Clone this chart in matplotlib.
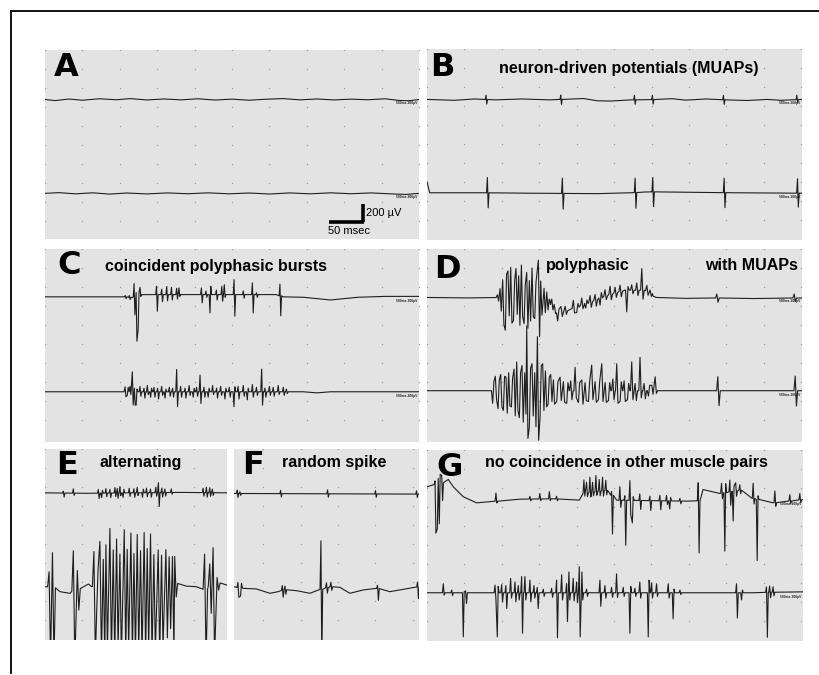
import numpy as np
import matplotlib.pyplot as plt
from matplotlib.lines import Line2D

plt.rcParams['font.family'] = ['Liberation Sans', 'DejaVu Sans']

# ---------------------------------------------------------------
# DATA: paired EMG sweeps, time in ms, amplitude in uV
# baseline = slow drift waypoints (t, uV); spikes = (t, first, second)
# ---------------------------------------------------------------

# A - resting, no activity
A_TOP_BASE = [(0, 0), (15, -12), (35, 5), (55, -8), (80, 8), (105, -3), (125, 10),
              (150, -5), (175, 6), (200, -4), (225, 8), (250, -6), (275, 4), (300, -8),
              (325, 3), (350, 10), (375, -4), (400, 6), (425, -5), (450, 4), (475, -3),
              (500, 8), (520, -10), (535, -14), (550, 0)]
A_BOT_BASE = [(0, 0), (20, 8), (45, -5), (70, 6), (95, -8), (120, 4), (150, -6), (180, 5),
              (210, -4), (240, 6), (270, -5), (300, 4), (330, -7), (360, 5), (390, -5),
              (420, 6), (450, -4), (480, 5), (510, -6), (530, -12), (550, 0)]

# B - neuron-driven potentials (MUAPs)
B_TOP_BASE = [(0, 0), (40, -10), (70, 5), (100, -5), (140, 5), (180, -5), (230, 10),
              (250, -15), (270, -18), (300, -5), (330, -2), (360, 8), (380, -8), (410, 5),
              (440, -5), (470, -12), (500, 0), (520, -10), (551, 0)]
B_TOP_SPIKES = [(86.7, 48, -52), (196.5, 48, -55), (304.8, 50, -50), (331.2, 48, -50),
                (435.6, 48, -52), (543.4, 50, -30)]
B_BOT_BASE = [(0, 120), (4, 0), (80, 0), (150, -5), (250, -10), (300, 0), (320, 8),
              (330, 10), (450, 0), (551, -5)]
B_BOT_SPIKES = [(88.7, 170, -167), (198.9, 170, -175), (305.8, 160, -175),
                (331.7, 160, -165), (436.6, 160, -167), (544.4, 160, -155)]

# C - coincident polyphasic bursts
C_TOP_BASE = [(0, 0), (120, 0), (128, -10), (140, 25), (340, 25), (350, 0), (380, -5),
              (420, -35), (460, -5), (500, 5), (550, 5)]
C_TOP_SPIKES = [(118, 15, -20), (124, 20, -25), (131, 148, -200), (134, 40, -500),
                (137, -380, 30), (139.7, 81, -20), (164, 92, -185), (171.6, 60, -80),
                (179, 90, -70), (186, 80, -60), (193.6, 70, -50), (197, 74, -20),
                (230, 74, -92), (236.7, 40, -30), (242.6, -204, 92), (252, 50, -60),
                (260, 92, -74), (263.7, 110, -30), (278, 166, -240), (291.6, 40, -40),
                (305, 130, -204), (311, 20, -30), (345.5, 130, -222)]
C_BOT_BASE = [(0, 0), (380, 0), (400, -12), (420, 0), (550, 0)]
C_BOT_SPIKES = [(117.7, 55, -55), (121, -40, 50), (125, 60, -30), (128.4, 222, -148),
                (131.4, 40, -148), (134, -148, 30), (139.7, 60, -50), (145.6, 40, -70),
                (150.5, 70, -30), (155.4, -60, 40), (160.3, 50, -60), (165.7, 40, -80),
                (171.6, 60, -40), (176.5, -70, 30), (182.8, 50, -50), (187.7, 40, -60),
                (193.6, 248, -166), (199.5, 60, -60), (205.9, 40, -70), (212, 70, -40),
                (218, -60, 40), (223, 50, -50), (228, 185, -130), (233.8, 50, -60),
                (240, -60, 40), (246.5, 70, -30), (252.4, 40, -70), (258.3, 60, -40),
                (264.7, -80, 40), (271, 50, -60), (277.9, -166, 55), (284, 60, -80),
                (291.6, 70, -50), (297.5, -90, 40), (305, 80, -60), (311, 50, -40),
                (318.6, 252, -148), (323.5, 40, -60), (330, 60, -40), (335.7, 50, -50),
                (343, 70, -30), (350.4, 50, -40), (355, 30, -20)]

# D - polyphasic with MUAPs
D_TOP_BASE = [(0, 0), (60, -5), (100, 0), (180, -20), (189, -178), (215, -122),
              (240, -48), (265, 26), (290, 81), (322, 81), (332, 15), (337, 0),
              (380, -10), (420, -5), (480, -12), (551, -5)]
D_TOP_SPIKES = [(103.4, 30, -40), (107.3, 100, -150), (111.2, 200, -300), (115.1, -360, 260),
                (119, 300, -200), (123, 340, -280), (127, -250, 200), (130.8, 330, -180),
                (134.7, 250, -300), (138.7, 370, -200), (142.6, -280, 150), (146.5, 290, -330),
                (150.4, 200, -250), (154.3, 340, -200), (158.3, -220, 180), (163.6, 430, -420),
                (167.1, 200, -180), (172, 120, -150), (176, 80, -120), (183.3, 60, -60),
                (192, -90, 40), (197, 60, -50), (203, 50, -40), (215, 90, -50),
                (220, -60, 40), (227.4, 80, -40), (233.2, -50, 40), (239.6, 70, -60),
                (247, 60, -70), (254.3, -80, 60), (261.6, 70, -40), (269, 90, -60),
                (276.4, 60, -50), (283.7, 70, -60), (293.5, -240, 40), (300.8, 60, -40),
                (308.2, 80, -60), (315.6, 240, -100), (323, 60, -50), (327.8, 40, -30),
                (425.8, 44, -48), (539.5, 44, -37)]
D_BOT_BASE = [(0, 0), (200, 0), (400, 0), (551, 0)]
D_BOT_SPIKES = [(96.5, -140, 100), (100.4, 160, -100), (104.4, -200, 120), (108.3, 180, -180),
                (112.2, -220, 160), (116.1, 150, -250), (120, 200, -170), (124, -180, 140),
                (127.9, 240, -280), (131.8, 320, -220), (135.7, -300, 200), (139.6, 280, -350),
                (143.6, 200, -260), (146.5, 720, -530), (150.4, -400, 250), (154.3, 300, -280),
                (158.3, 200, -400), (162.2, 600, -550), (166.1, -300, 280), (170, 300, -220),
                (174, 220, -180), (177.9, -150, 150), (181.8, 180, -120), (185.7, 120, -150),
                (190.6, -120, 100), (195.5, 150, -110), (200.4, 100, -130), (205.3, -140, 90),
                (211.2, 110, -100), (217.6, 260, -80), (222.5, -130, 90), (227.4, 120, -150),
                (232.3, 90, -110), (237.2, -120, 100), (242, 285, -100), (247, 100, -130),
                (251.9, -100, 100), (256.8, 300, -120), (261.7, 90, -130), (266.6, -110, 90),
                (273, 130, -100), (278.8, 300, -140), (283.7, -120, 100), (289.6, 110, -120),
                (294.5, -100, 80), (300.8, 320, -100), (305.8, 80, -110), (313, 370, -80),
                (319, 80, -90), (325.4, -60, 60), (330.3, 60, -40), (335.2, 155, -30),
                (427.3, 155, -166), (541, 163, -170)]

# E - alternating
E_TOP_BASE = [(0, 0), (60, -5), (120, 0), (200, 5), (268, 0)]
E_TOP_SPIKES = [(27, 20, -45), (41.7, 48, -25), (78.5, 40, -60), (83.4, -50, 30),
                (89.7, 50, -40), (95.6, 40, -50), (103, 60, -40), (106.4, 50, -60),
                (110.3, 70, -30), (115, -50, 40), (124, 50, -40), (131, 45, -50),
                (135.8, 60, -30), (143.6, -50, 40), (149.5, 50, -45), (155.4, 40, -50),
                (163.2, 60, -40), (167, 110, -155), (172, 50, -50), (176.5, 40, -40),
                (186, 40, -20), (232.8, 50, -40), (237.7, 60, -50), (242.6, 55, -40),
                (246.5, 40, -30)]
E_BOT_BASE = [(0, 0), (8, 0), (22, -55), (37, -74), (51.5, 0), (64, 30), (68.7, 0),
              (193.6, 37), (208, 7), (223, 0), (233, -37), (252, 44), (268, 18)]
E_BOT_SPIKES = [(6, 166, -800), (11, 390, -800), (41.7, 450, -800), (47.6, 200, -240),
                (72, 390, -800), (76, -300, 200), (80.9, 500, -800), (85.8, 300, -800),
                (89.7, 460, -700), (95.6, 640, -800), (100.5, 400, -800), (105.4, 520, -700),
                (110.3, 350, -800), (116.7, 620, -800), (121, 400, -700), (126.5, 580, -800),
                (131, 350, -800), (135.8, 560, -750), (140.7, 380, -800), (146, 580, -800),
                (150.5, 400, -700), (155.4, 560, -800), (160.3, 330, -750), (166.7, 380, -800),
                (171.6, 320, -700), (178, 380, -600), (182.8, 300, -500), (187.7, 300, -800),
                (191, 300, -150), (235, 390, -800), (242.6, 250, -300), (247.5, 410, -800),
                (253.4, 60, -80)]

# F - random spike
F_TOP_BASE = [(0, 0), (272, -7)]
F_TOP_SPIKES = [(4.8, 37, -44), (8.7, 20, -20), (68.5, 37, -37), (137.6, 44, -37),
                (208, 37, -37), (268.4, 37, -37)]
F_BOT_BASE = [(0, 18), (13.6, 0), (33, -7), (52.8, -55), (65, -37), (77.3, -11), (92, -26),
              (111.6, -55), (121.4, -26), (141, 18), (155.7, 11), (170.4, -55), (190, -18),
              (209.6, 0), (229, -37), (248.8, -11), (272, 18)]
F_BOT_SPIKES = [(5.8, 55, -110), (9.7, -90, 50), (71, 55, -74), (74.9, 40, -50),
                (127.8, 540, -800), (136, 55, -60), (142.5, 50, -40), (211, 37, -130),
                (269.9, 55, -130)]

# G - no coincidence in other muscle pairs
G_TOP_BASE = [(0, 148), (24, 200), (31.3, 230), (38.7, 148), (53.4, 37), (73, -30),
              (102.4, -11), (136.7, 11), (185.7, 15), (224, 0), (229.8, 74), (264, 111),
              (278.8, 0), (381.7, -11), (401, -7), (406, 118), (430.8, 74), (460, 111),
              (479.7, 18), (509, -30), (553, 7)]
G_TOP_SPIKES = [(11.8, 40, -540), (15.2, -500, 60), (18.1, -450, 100), (21.6, 80, -200),
                (101.4, 90, -20), (151.4, 30, -20), (166, 60, -20), (180, 80, -20),
                (190.6, 30, -20), (230.8, 150, -30), (234.7, 120, -40), (239.6, 170, -50),
                (243.5, 110, -40), (248.4, 180, -40), (253.3, 130, -50), (258.2, 150, -60),
                (263, 110, -50), (271.5, 40, -430), (283.7, 150, -80), (291, 50, -500),
                (298.4, 220, -160), (302, -250, 40), (313, 74, -100), (327.8, 50, -110),
                (342.5, 60, -100), (352.3, 60, -40), (357, -90, 40), (372, 30, -30),
                (398.9, 200, -580), (433.2, 110, -60), (438, -650, 100), (445.4, 130, -150),
                (450.3, -330, 60), (454, 90, -60), (460, 60, -40), (479.7, 170, -60),
                (485.6, -680, 40), (511.6, 130, -40), (533.6, 70, -30), (548.3, 70, -30)]
G_BOT_BASE = [(0, 0), (480, 0), (500, 5), (553, 10)]
G_BOT_SPIKES = [(24, 100, -26), (36.3, 30, -30), (53.4, -490, 10), (56.8, 20, -120),
                (100, 85, -60), (103.4, -490, 70), (109.8, 90, -100), (116, 80, -175),
                (123, 160, -60), (129.4, 120, -100), (134.3, 80, -80), (139.2, 180, -450),
                (144, 180, -80), (151.4, 140, -100), (157.3, 80, -60), (162.2, 60, -175),
                (171, 40, -40), (183.3, 50, -50), (190.6, 140, -500), (198, 200, -80),
                (205.3, 100, -320), (208.7, 230, -80), (215, 160, -90), (220, 120, -110),
                (224, 290, -490), (227.8, 230, -80), (234.7, 40, -40), (254.3, 140, -150),
                (261.7, 80, -60), (271.5, 60, -50), (278.8, 210, -50), (288.6, 60, -40),
                (298.4, -450, 70), (305.8, 50, -40), (313, 120, -60), (325.4, -490, 140),
                (330.3, 110, -60), (337.6, 100, -40), (354.8, 100, -60), (362, -290, 40),
                (372, 30, -20), (455.2, 100, -280), (462.6, -80, 30), (499.3, 60, -500),
                (504, 70, -60), (509, 60, -40)]

# scope gain: 200 uV per 18 px, 50 ms per 34 px
UV_PER_PX = 200 / 18
GRID_MS = 55
GRID_UV = 211

# panel boxes in pixels (left, top, right, bottom), sweep length (ms),
# channels: (offset uV, baseline, spikes, spike half-width ms)
PANELS = {
    'A': dict(box=(45, 50, 419, 239), sweep=550, grid0=0,
              chans=[(1550, A_TOP_BASE, [], 1.2), (507, A_BOT_BASE, [], 1.2)]),
    'B': dict(box=(427, 49, 802, 240), sweep=551, grid0=0,
              chans=[(1562, B_TOP_BASE, B_TOP_SPIKES, 1.1), (525, B_BOT_BASE, B_BOT_SPIKES, 1.2)]),
    'C': dict(box=(45, 249, 419, 442), sweep=550, grid0=0,
              chans=[(1613, C_TOP_BASE, C_TOP_SPIKES, 1.2), (558, C_BOT_BASE, C_BOT_SPIKES, 1.3)]),
    'D': dict(box=(427, 249, 802, 442), sweep=551, grid0=0,
              chans=[(1606, D_TOP_BASE, D_TOP_SPIKES, 1.8), (570, D_BOT_BASE, D_BOT_SPIKES, 1.8)]),
    'E': dict(box=(45, 449, 227, 640), sweep=268, grid0=0,
              chans=[(1635, E_TOP_BASE, E_TOP_SPIKES, 1.2), (592, E_BOT_BASE, E_BOT_SPIKES, 2.2)]),
    'F': dict(box=(234, 449, 419, 640), sweep=272, grid0=43,
              chans=[(1628, F_TOP_BASE, F_TOP_SPIKES, 1.1), (574, F_BOT_BASE, F_BOT_SPIKES, 1.3)]),
    'G': dict(box=(427, 450, 803, 641), sweep=553, grid0=0,
              chans=[(1565, G_TOP_BASE, G_TOP_SPIKES, 1.3), (536, G_BOT_BASE, G_BOT_SPIKES, 1.3)]),
}
TINY_LABEL = ['A', 'B', 'C', 'D', 'G']


def trace_xy(base, spikes, dt):
    """Baseline polyline with each spike drawn as two peaks; in dense bursts the
    trace jumps from peak to peak instead of returning to baseline."""
    bt = np.array([p[0] for p in base], float)
    bv = np.array([p[1] for p in base], float)
    sp = sorted(spikes)
    wins = [(t - dt, t + 2 * dt) for t, _, _ in sp]

    def free(x, skip=-1):
        return not any(a < x < b for k, (a, b) in enumerate(wins) if k != skip)

    pts = [(t, v) for t, v in zip(bt, bv) if free(t)]
    for k, (t, a1, a2) in enumerate(sp):
        b = np.interp(t, bt, bv)
        pts += [(t, b + a1), (t + dt, b + a2)]
        if free(t - dt, k):
            pts.append((t - dt, b))
        if free(t + 2 * dt, k):
            pts.append((t + 2 * dt, b))
    pts.sort(key=lambda p: p[0])
    x, y = zip(*pts)
    return np.array(x), np.array(y)


W, H = 819, 675
fig = plt.figure(figsize=(W / 100, H / 100), dpi=100)
fig.patch.set_facecolor('white')

axes = {}
for name, p in PANELS.items():
    l, t, r, b = p['box']
    ax = fig.add_axes([l / W, 1 - b / H, (r - l) / W, (b - t) / H])
    ymax = (b - t) * UV_PER_PX
    ax.set_xlim(0, p['sweep'])
    ax.set_ylim(0, ymax)
    ax.set_facecolor('#e3e3e3')
    for s in ax.spines.values():
        s.set_visible(False)
    ax.set_xticks([])
    ax.set_yticks([])

    # scope grid dots
    gx = np.arange(p['grid0'], p['sweep'] + 1, GRID_MS)
    gy = ymax - np.arange(0, 10) * GRID_UV
    GX, GY = np.meshgrid(gx, gy)
    ax.plot(GX.ravel(), GY.ravel(), ls='none', marker='s', ms=0.9, mew=0,
            color='#9c9c9c', zorder=1)

    for off, base, spikes, dt in p['chans']:
        x, y = trace_xy(base, spikes, dt)
        ax.plot(x, y + off, color='#1e1e1e', lw=0.8, zorder=3)
        if name in TINY_LABEL:
            ax.text(p['sweep'] - 2, off - 22, '500ms 200µV', fontsize=2.4,
                    fontweight='bold', ha='right', va='top', color='#222222', zorder=4)
    axes[name] = ax

# scale bar in A
axA = axes['A']
axA.plot([467, 467], [189, 389], color='black', lw=2.6, solid_capstyle='butt', zorder=5)
axA.plot([417, 468.5], [189, 189], color='black', lw=2.6, solid_capstyle='butt', zorder=5)
axA.text(472, 289, '200 µV', fontsize=8, va='center', ha='left')
axA.text(416, 89, '50 msec', fontsize=8, va='center', ha='left')


def ftext(x, y, s, **kw):
    fig.text(x / W, 1 - y / H, s, **kw)


# panel letters
for letter, (x, y) in {'A': (54, 67), 'B': (430, 67), 'C': (57, 266), 'D': (434, 269),
                       'E': (56, 466), 'F': (242, 466), 'G': (436, 467)}.items():
    ftext(x, y, letter, fontsize=23, fontweight='bold', va='center', ha='left',
          family=['DejaVu Sans'])

# panel titles
TITLE_KW = dict(fontsize=11.5, fontweight='bold', va='center', ha='left')
ftext(499, 69, 'neuron-driven potentials (MUAPs)', **TITLE_KW)
ftext(105, 267, 'coincident polyphasic bursts', **TITLE_KW)
ftext(546, 266, 'polyphasic', **TITLE_KW)
ftext(705, 266, 'with MUAPs', **TITLE_KW)
ftext(100, 463, 'alternating', **TITLE_KW)
ftext(282, 463, 'random spike', **TITLE_KW)
ftext(485, 463, 'no coincidence in other muscle pairs', **TITLE_KW)

# outer frame (top and left edges)
fig.add_artist(Line2D([11 / W, 1.0], [1 - 11 / H, 1 - 11 / H], color='black', lw=1.3,
                      transform=fig.transFigure))
fig.add_artist(Line2D([11 / W, 11 / W], [1 - 11 / H, 1 - 673 / H], color='black', lw=1.3,
                      transform=fig.transFigure))

fig.savefig('out.png', dpi=100)
